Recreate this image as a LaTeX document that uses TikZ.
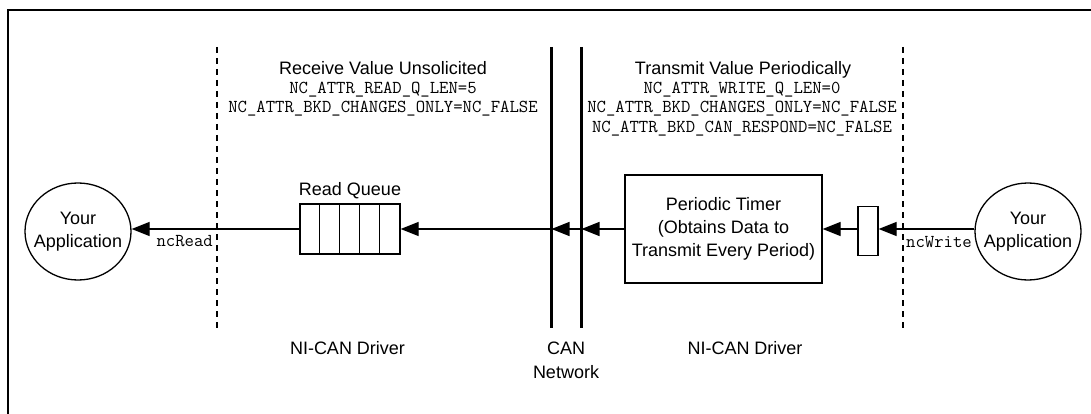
\documentclass[tikz,border=0pt]{standalone}
\usepackage{fontspec}
\setmainfont{Liberation Sans}
\usetikzlibrary{arrows.meta,shapes.geometric}
\begin{document}
\begin{tikzpicture}[x=1pt,y=-1pt,
  lbl/.style={font=\fontsize{18}{23}\selectfont, inner sep=0pt, align=center},
  mono/.style={font=\ttfamily\fontsize{18.2}{19.5}\selectfont, inner sep=0pt},
  conn/.style={line width=1.3pt, -{Triangle[length=18pt,width=14pt]}},
  app/.style={ellipse, draw, line width=1.3pt, minimum width=106pt, minimum height=97pt, inner sep=0pt},
  boxst/.style={draw, line width=1.3pt, inner sep=0pt},
  divider/.style={dashed, line width=1.2pt, dash pattern=on 6pt off 5pt},
  canline/.style={line width=3pt},
  frame/.style={line width=2pt}]
\useasboundingbox (0,0) rectangle (1091,414);
% frame
\coordinate (fbl) at (7.5,414);
\coordinate (ftl) at (7.5,10);
\coordinate (ftr) at (1091,10);
\draw[frame] (fbl) -- (ftl) -- (ftr);
% dashed dividers
\coordinate (dLt) at (217,47);
\coordinate (dLb) at (217,328);
\coordinate (dRt) at (903,47);
\coordinate (dRb) at (903,328);
\draw[divider] (dLt) -- (dLb);
\draw[divider] (dRt) -- (dRb);
% CAN lines
\coordinate (can1t) at (551.5,47);
\coordinate (can1b) at (551.5,328);
\coordinate (can2t) at (581.5,47);
\coordinate (can2b) at (581.5,328);
\draw[canline] (can1t) -- (can1b);
\draw[canline] (can2t) -- (can2b);
% applications
\node[app] (appL) at (78,231.5) {};
\node[lbl] (appLt) at (appL.center) {Your\\Application};
\node[app] (appR) at (1028,231.5) {};
\node[lbl] (appRt) at (appR.center) {Your\\Application};
% read queue
\node[boxst, minimum width=100pt, minimum height=50pt] (q) at (350,229) {};
\foreach \i in {1,...,4} \draw[line width=1.6pt] ([xshift=\i*20pt]q.north west) -- ([xshift=\i*20pt]q.south west);
\node[lbl, anchor=base] (qlbl) at (350,195.5) {Read Queue};
% periodic timer
\node[boxst, lbl, minimum width=197pt, minimum height=108pt] (timer) at (723.5,229) {Periodic Timer\\(Obtains Data to\\Transmit Every Period)};
% small write box
\node[boxst, minimum width=20pt, minimum height=49pt] (sb) at (868,231) {};
% connectors
\draw[conn] (q.west |- 0,229) -- (appL.east |- 0,229);
\draw[conn] (can1t |- 0,229) -- (q.east |- 0,229);
\draw[conn] (can2t |- 0,229) -- (can1t |- 0,229);
\draw[conn] (timer.west) -- (can2t |- timer.west);
\draw[conn] (sb.west |- timer.east) -- (timer.east);
\draw[conn] (appR.west |- timer.east) -- (sb.east |- timer.east);
% connector labels
\node[mono, anchor=base east] (ncr) at (213,246.5) {ncRead};
\node[mono, anchor=base west] (ncw) at (906,247.5) {ncWrite};
% headers
\node[lbl, anchor=base] (hL) at (383,74.5) {Receive Value Unsolicited};
\node[mono, anchor=base] (hL1) at (383,93.5) {NC\_ATTR\_READ\_Q\_LEN=5};
\node[mono, anchor=base] (hL2) at (383,113) {NC\_ATTR\_BKD\_CHANGES\_ONLY=NC\_FALSE};
\node[lbl, anchor=base] (hR) at (743,74.5) {Transmit Value Periodically};
\node[mono, anchor=base] (hR1) at (742,93.5) {NC\_ATTR\_WRITE\_Q\_LEN=0};
\node[mono, anchor=base] (hR2) at (742,113) {NC\_ATTR\_BKD\_CHANGES\_ONLY=NC\_FALSE};
\node[mono, anchor=base] (hR3) at (742,132.5) {NC\_ATTR\_BKD\_CAN\_RESPOND=NC\_FALSE};
% bottom labels
\node[lbl, anchor=base] (bL) at (347.5,354.5) {NI-CAN Driver};
\node[lbl, anchor=base] (bC1) at (566,354.5) {CAN};
\node[lbl, anchor=base] (bC2) at (566,378.5) {Network};
\node[lbl, anchor=base] (bR) at (745,354.5) {NI-CAN Driver};
\end{tikzpicture}
\end{document}
